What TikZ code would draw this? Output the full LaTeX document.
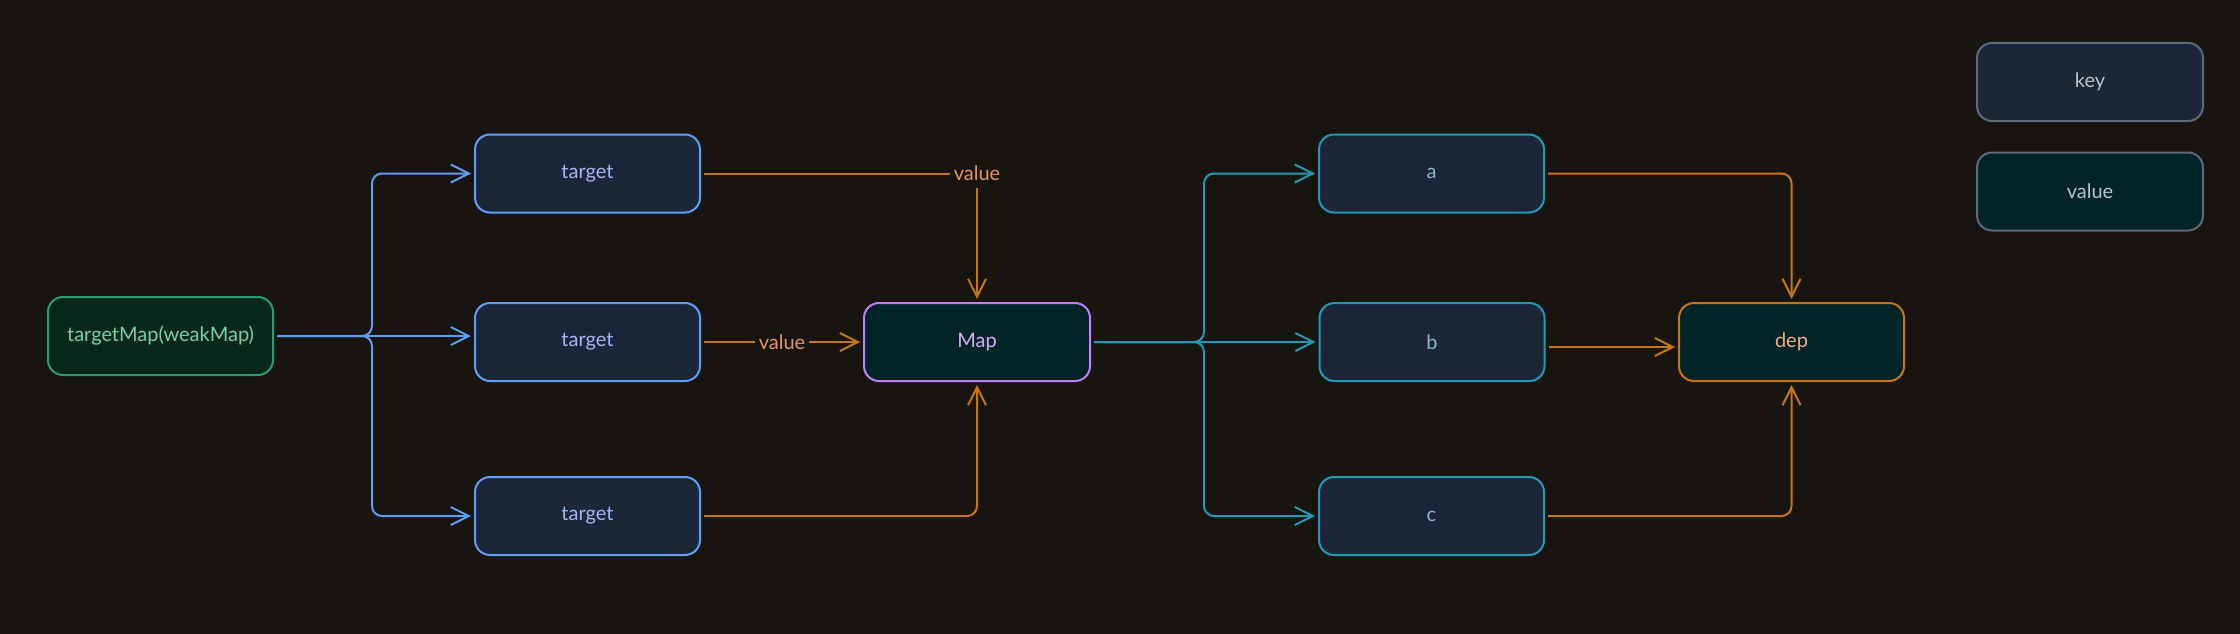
\documentclass[tikz,border=0pt]{standalone}
\usepackage{fontspec}
\setmainfont{Lato}
\usetikzlibrary{arrows.meta}
\definecolor{bg}{HTML}{181511}
\definecolor{keyfill}{HTML}{1B2638}
\definecolor{valfill}{HTML}{012427}
\definecolor{tmfill}{HTML}{06281A}
\definecolor{bluel}{HTML}{5F9EF5}
\definecolor{bluet}{HTML}{A3B6F6}
\definecolor{greenl}{HTML}{2A9D74}
\definecolor{greent}{HTML}{7CCFA5}
\definecolor{purpl}{HTML}{C07EF5}
\definecolor{purpt}{HTML}{D8ACF8}
\definecolor{teall}{HTML}{2399B8}
\definecolor{tealt}{HTML}{8AB8CC}
\definecolor{orangel}{HTML}{C87513}
\definecolor{oranget}{HTML}{E8955A}
\definecolor{dept}{HTML}{F0A987}
\definecolor{grayl}{HTML}{5B6B7C}
\definecolor{grayt}{HTML}{B8C2CC}
\begin{document}
\begin{tikzpicture}[x=1pt,y=-1pt,
  box/.style={draw, rounded corners=15pt, line width=2pt, minimum width=#1, minimum height=78pt,
    outer sep=4pt, inner sep=0pt, font=\fontsize{20}{24}\selectfont},
  box/.default=225pt,
  keybox/.style={box=#1, fill=keyfill},
  keybox/.default=225pt,
  valbox/.style={box=#1, fill=valfill},
  valbox/.default=225pt,
  conn/.style={line width=2pt, rounded corners=10pt},
  arr/.style={conn, -{Straight Barb[length=18pt,width=18pt]}},
  lbl/.style={inner sep=4pt, text=oranget, font=\fontsize{20}{24}\selectfont}
]
\fill[bg] (0,0) rectangle (2240,634);
\useasboundingbox (0,0) rectangle (2240,634);

% nodes
\node[box, fill=tmfill, draw=greenl, text=greent] (tm) at (160.5,336) {targetMap(weakMap)};
\node[keybox, draw=bluel, text=bluet] (t1) at (587.5,173.5) {target};
\node[keybox, draw=bluel, text=bluet] (t2) at (587.5,342) {target};
\node[keybox, draw=bluel, text=bluet] (t3) at (587.5,516) {target};
\node[valbox=226pt, draw=purpl, text=purpt] (map) at (977,342) {Map};
\node[keybox, draw=teall, text=tealt] (a) at (1431.5,173.5) {a};
\node[keybox, draw=teall, text=tealt] (b) at (1432,342) {b};
\node[keybox, draw=teall, text=tealt] (c) at (1431.5,516) {c};
\node[valbox, draw=orangel, text=dept] (dep) at (1791.5,342) {dep};
\node[keybox=226pt, draw=grayl, text=grayt] (key) at (2090,82) {key};
\node[valbox=226pt, draw=grayl, text=grayt] (val) at (2090,191.5) {value};

% labels
\node[lbl] (v1) at (977,173.5) {value};
\node[lbl] (v2) at (782,342) {value};

% targetMap -> targets
\draw[arr, draw=bluel] (tm.east) -- ++(95,0) |- (t1.west);
\draw[arr, draw=bluel] (tm.east) -- (tm.east -| t2.west);
\draw[arr, draw=bluel] (tm.east) -- ++(95,0) |- (t3.west);

% targets -> Map
\draw[conn, draw=orangel] (t1.east) -- (v1.west);
\draw[arr, draw=orangel] ([yshift=-3pt]v1.south) -- (map.north);
\draw[conn, draw=orangel] (t2.east) -- (v2.west);
\draw[arr, draw=orangel] (v2.east) -- (map.west);
\draw[arr, draw=orangel] (t3.east) -| (map.south);

% Map -> a b c
\draw[arr, draw=teall] (map.east) -- ++(110,0) |- (a.west);
\draw[arr, draw=teall] (map.east) -- (map.east -| b.west);
\draw[arr, draw=teall] (map.east) -- ++(110,0) |- (c.west);

% a b c -> dep
\draw[arr, draw=orangel] (a.east) -| (dep.north);
\draw[arr, draw=orangel] ([yshift=-5pt]b.east) -- ([yshift=-5pt]dep.west);
\draw[arr, draw=orangel] (c.east) -| (dep.south);
\end{tikzpicture}
\end{document}
